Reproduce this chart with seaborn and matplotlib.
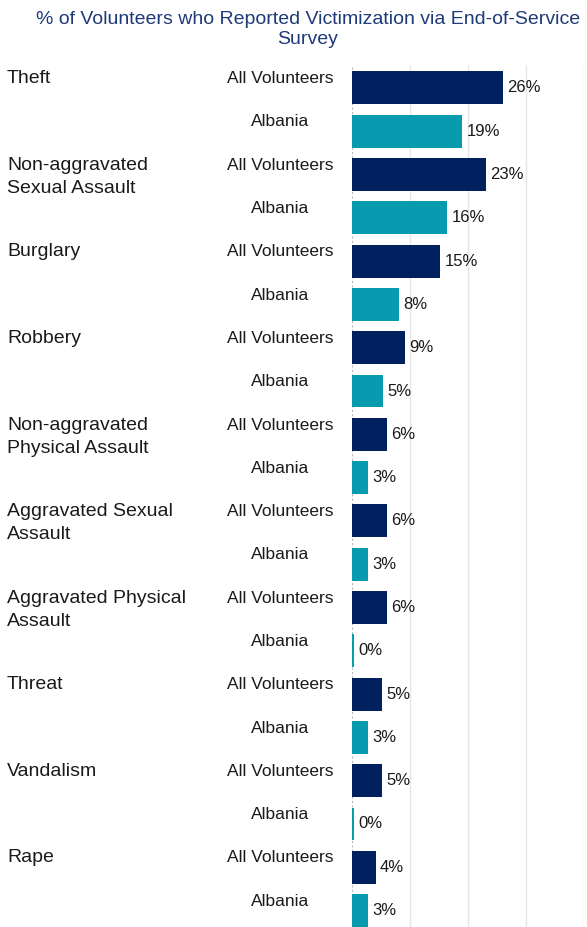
import numpy as np
import pandas as pd
import matplotlib.pyplot as plt
import matplotlib.transforms as mtransforms
import seaborn as sns

# 数据
categories = ["Theft", "Non-aggravated\nSexual Assault", "Burglary", "Robbery",
              "Non-aggravated\nPhysical Assault", "Aggravated Sexual\nAssault",
              "Aggravated Physical\nAssault", "Threat", "Vandalism", "Rape"]
groups = ["All Volunteers", "Albania"]
all_volunteers = [26.0, 23.1, 15.2, 9.1, 6.0, 6.0, 6.0, 5.2, 5.2, 4.1]
albania = [19.0, 16.4, 8.1, 5.4, 2.8, 2.8, 0.3, 2.8, 0.3, 2.8]

title = "% of Volunteers who Reported Victimization via End-of-Service\nSurvey"
colors = {"All Volunteers": "#002060", "Albania": "#089BB0"}

# 每个类别两行
rows, vals, hues = [], [], []
for cat, av, al in zip(categories, all_volunteers, albania):
    for g, v in zip(groups, [av, al]):
        rows.append(f"{cat} | {g}")
        vals.append(v)
        hues.append(g)
df = pd.DataFrame({"row": rows, "value": vals, "group": hues})

sns.set_style("white")
plt.rcParams['font.family'] = ['Liberation Sans', 'DejaVu Sans']

fig = plt.figure(figsize=(5.87, 9.27), dpi=100)
ax = fig.add_axes([352 / 587, 0, 232 / 587, 862 / 927])

sns.barplot(data=df, x="value", y="row", hue="group", palette=colors,
            dodge=False, width=0.76, orient="h", legend=False, ax=ax,
            saturation=1, linewidth=0)

ax.set_xlim(0, 40)
ax.set_ylim(19.38, -0.53)
ax.set_xticks([10, 20, 30, 40])
ax.set_yticks([])
ax.tick_params(axis="x", length=0, labelbottom=False)
ax.xaxis.grid(True, color="#e6e6e6", linewidth=1)
ax.set_axisbelow(True)
for s in ax.spines.values():
    s.set_visible(False)
ax.axvline(0, color="#b8b8b8", linestyle=(0, (2, 2)), linewidth=0.8, zorder=0)
ax.set_xlabel("")
ax.set_ylabel("")

# 数值标签
for c in ax.containers:
    ax.bar_label(c, fmt="{:.0f}%", padding=3, fontsize=12, color="#1a1a1a")

# 左侧文字，每行单独放
trans = mtransforms.blended_transform_factory(fig.transFigure, ax.transData)
line_gap = 23 / 43.3
for i, cat in enumerate(categories):
    y0 = 2 * i
    for k, line in enumerate(cat.split("\n")):
        fig.text(7 / 587, y0 - 0.11 + k * line_gap, line, transform=trans,
                 ha="left", va="baseline", fontsize=14, color="#1a1a1a")
    for j, g in enumerate(groups):
        fig.text(280 / 587, y0 + j - 0.11, g, transform=trans, ha="center",
                 va="baseline", fontsize=12.5, color="#1a1a1a")

fig.text(308 / 587, 1 - 11.5 / 927, title, ha="center", va="top", fontsize=14,
         color="#1F3A78", linespacing=1.2)

fig.savefig("out.png", dpi=100)
